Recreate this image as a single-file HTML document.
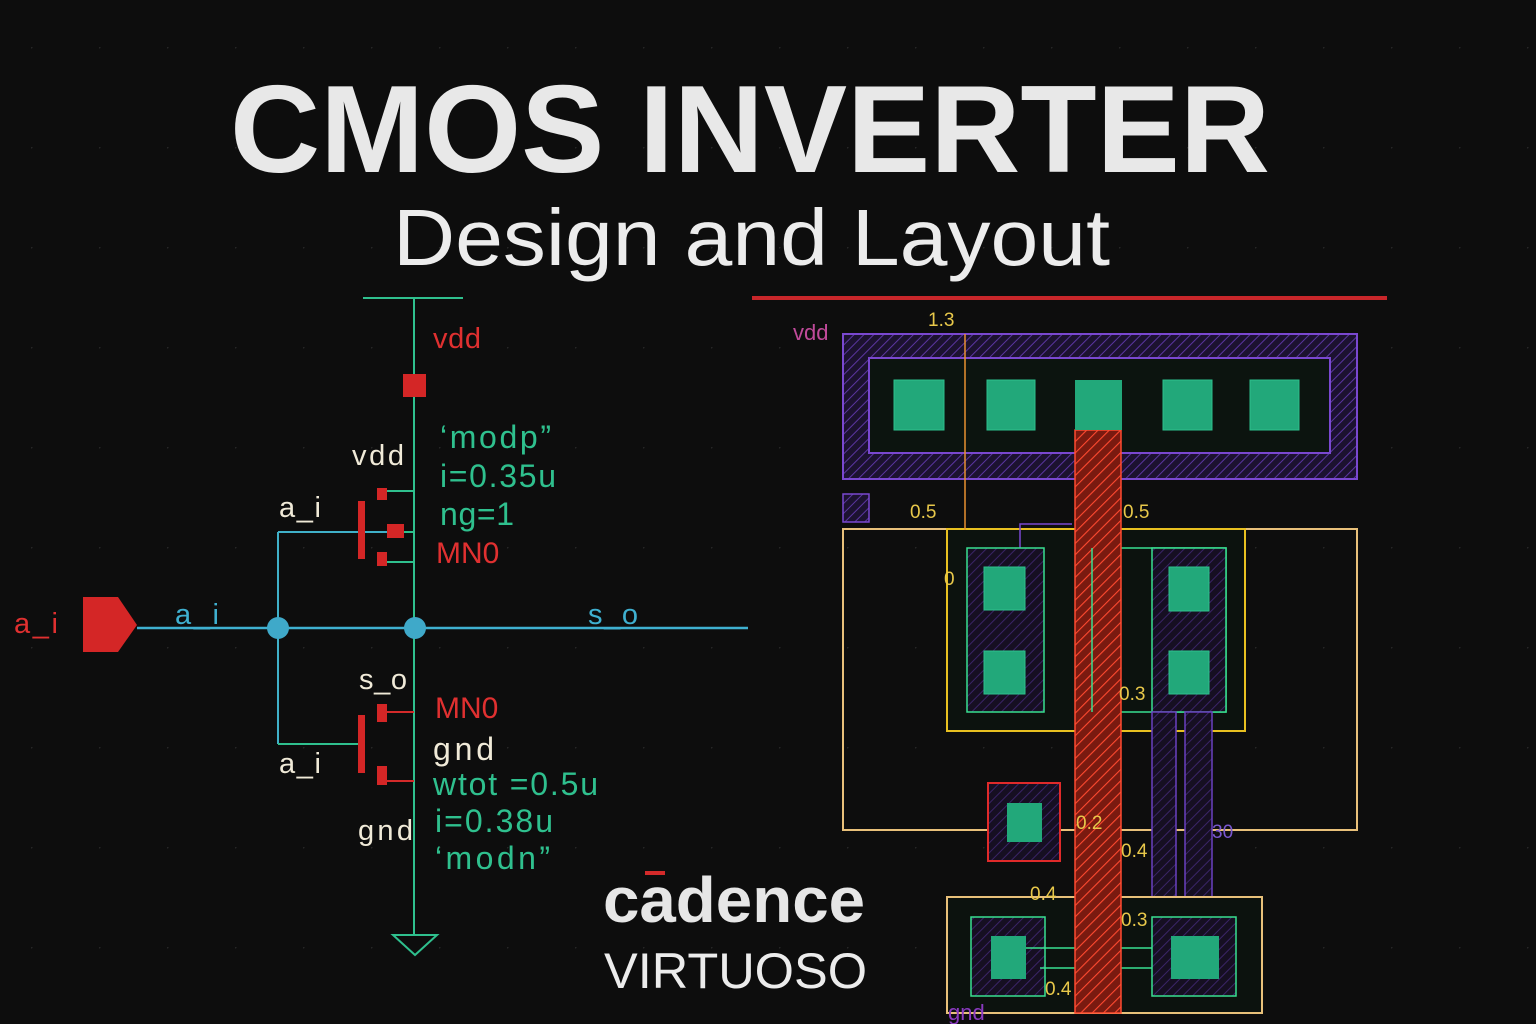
<!DOCTYPE html>
<html><head><meta charset="utf-8"><style>
html,body{margin:0;padding:0;background:#0d0d0d;}
svg{display:block;}
text{font-family:"Liberation Sans",sans-serif;}
</style></head><body>
<svg width="1536" height="1024" viewBox="0 0 1536 1024" xmlns="http://www.w3.org/2000/svg">
<defs>
<pattern id="dots" x="31" y="47" width="68" height="100" patternUnits="userSpaceOnUse"><circle cx="0" cy="0" r="1.6" fill="#262626"/></pattern>
<pattern id="hp" width="7" height="7" patternUnits="userSpaceOnUse" patternTransform="rotate(45)"><rect width="7" height="7" fill="#1c1230"/><line x1="0" y1="0" x2="0" y2="7" stroke="#5a35a0" stroke-width="2"/></pattern>
<pattern id="hr" width="8" height="8" patternUnits="userSpaceOnUse" patternTransform="rotate(45)"><rect width="8" height="8" fill="#7a1a10"/><line x1="0" y1="0" x2="0" y2="8" stroke="#ff4a30" stroke-width="2.2"/></pattern>
<pattern id="hpd" width="7" height="7" patternUnits="userSpaceOnUse" patternTransform="rotate(45)"><rect width="7" height="7" fill="#160f22"/><line x1="0" y1="0" x2="0" y2="7" stroke="#3a2466" stroke-width="2"/></pattern>
</defs>
<rect width="1536" height="1024" fill="#0d0d0d"/>
<rect width="1536" height="1024" fill="url(#dots)"/>

<text x="230" y="172" font-size="124" font-weight="bold" fill="#e8e8e8" textLength="1040" lengthAdjust="spacingAndGlyphs">CMOS INVERTER</text>
<text x="393" y="265" font-size="80" fill="#ececec" textLength="717" lengthAdjust="spacingAndGlyphs">Design and Layout</text>
<rect x="752" y="296" width="635" height="4" fill="#c8262a"/>

<g stroke="#2fc08e" stroke-width="2" fill="none">
<line x1="363" y1="298" x2="463" y2="298"/>
<line x1="414" y1="298" x2="414" y2="935"/>
<polygon points="393,935 437,935 415,955"/>
<line x1="387" y1="491" x2="414" y2="491"/>
<line x1="404" y1="532" x2="414" y2="532"/>
<line x1="387" y1="562" x2="414" y2="562"/>
<line x1="278" y1="532" x2="404" y2="532" stroke="#3fb0c8"/>
<line x1="278" y1="532" x2="278" y2="744" stroke="#3fb0c8"/>
<line x1="278" y1="744" x2="358" y2="744"/>
</g>
<line x1="137" y1="628" x2="748" y2="628" stroke="#3fb0d0" stroke-width="2.5"/>
<line x1="387" y1="712" x2="414" y2="712" stroke="#d42a2a" stroke-width="2"/>
<line x1="387" y1="781" x2="414" y2="781" stroke="#d42a2a" stroke-width="2"/>
<g fill="#d42626">
<rect x="403" y="374" width="23" height="23"/>
<rect x="358" y="501" width="7" height="58"/>
<rect x="377" y="488" width="10" height="12"/>
<rect x="387" y="524" width="17" height="14"/>
<rect x="377" y="552" width="10" height="14"/>
<rect x="358" y="715" width="7" height="58"/>
<rect x="377" y="704" width="10" height="18"/>
<rect x="377" y="766" width="10" height="19"/>
<polygon points="83,597 118,597 137,625 118,652 83,652"/>
</g>
<circle cx="278" cy="628" r="11" fill="#3fa9c9"/>
<circle cx="415" cy="628" r="11" fill="#3fa9c9"/>

<g font-size="29" lengthAdjust="spacingAndGlyphs">
<text x="433" y="348" fill="#e03030" textLength="48">vdd</text>
<text x="352" y="465" fill="#f0ead8" textLength="52">vdd</text>
<text x="279" y="517" fill="#f0ead8" textLength="42">a_i</text>
<text x="440" y="448" fill="#2fc08e" font-size="32" textLength="111">‘modp”</text>
<text x="440" y="487" fill="#2fc08e" font-size="32" textLength="116">i=0.35u</text>
<text x="440" y="525" fill="#2fc08e" font-size="32" textLength="74">ng=1</text>
<text x="436" y="563" fill="#e03030" font-size="30">MN0</text>
<text x="14" y="633" fill="#e03030" textLength="44">a_i</text>
<text x="175" y="624" fill="#3fb0d0" textLength="44">a_i</text>
<text x="588" y="624" fill="#3fb0d0" textLength="50">s_o</text>
<text x="359" y="689" fill="#f0ead8" textLength="48">s_o</text>
<text x="435" y="718" fill="#e03030" font-size="30">MN0</text>
<text x="433" y="760" fill="#f0ead8" font-size="32" textLength="61">gnd</text>
<text x="433" y="795" fill="#2fc08e" font-size="32" textLength="165">wtot =0.5u</text>
<text x="435" y="832" fill="#2fc08e" font-size="32" textLength="118">i=0.38u</text>
<text x="435" y="869" fill="#2fc08e" font-size="32" textLength="115">‘modn”</text>
<text x="358" y="840" fill="#f0ead8" textLength="55">gnd</text>
<text x="279" y="773" fill="#f0ead8" textLength="42">a_i</text>
</g>

<rect x="645" y="871" width="20" height="4" fill="#d42a2a"/>
<text x="603" y="922" font-size="64" font-weight="bold" fill="#e6e6e6" textLength="262" lengthAdjust="spacingAndGlyphs">cadence</text>
<text x="604" y="988" font-size="50" fill="#ececec" textLength="263" lengthAdjust="spacingAndGlyphs">VIRTUOSO</text>

<text x="793" y="340" font-size="22" fill="#c04a9a">vdd</text>
<text x="928" y="326" font-size="19" fill="#e8c84a">1.3</text>
<rect x="843" y="334" width="514" height="145" fill="url(#hp)" stroke="#7a48d0" stroke-width="2"/>
<rect x="869" y="358" width="461" height="95" fill="#0c140f" stroke="#7a48d0" stroke-width="2"/>
<g fill="#22a87a" stroke="#2dc08c" stroke-width="1">
<rect x="894" y="380" width="50" height="50"/>
<rect x="987" y="380" width="48" height="50"/>
<rect x="1163" y="380" width="49" height="50"/>
<rect x="1250" y="380" width="49" height="50"/>
</g>
<rect x="843" y="494" width="26" height="28" fill="url(#hp)" stroke="#7a48d0" stroke-width="1.5"/>
<rect x="843" y="529" width="514" height="301" fill="none" stroke="#e8c07a" stroke-width="2"/>
<rect x="947" y="529" width="298" height="202" fill="#0c120e" stroke="#e8c020" stroke-width="2"/>
<line x1="965" y1="334" x2="965" y2="530" stroke="#e89030" stroke-width="1.5"/>
<polyline points="1020,560 1020,524 1072,524" fill="none" stroke="#7a48d0" stroke-width="1.5"/>
<rect x="967" y="548" width="77" height="164" fill="url(#hpd)" stroke="#38e090" stroke-width="1.5"/>
<rect x="1092" y="548" width="134" height="164" fill="#0c120e" stroke="#38e090" stroke-width="1.5"/>
<rect x="1152" y="548" width="74" height="164" fill="url(#hpd)" stroke="#38e090" stroke-width="1.5"/>
<g fill="#22a87a" stroke="#2dc08c" stroke-width="1">
<rect x="984" y="567" width="41" height="43"/>
<rect x="984" y="651" width="41" height="43"/>
<rect x="1169" y="567" width="40" height="44"/>
<rect x="1169" y="651" width="40" height="43"/>
</g>
<rect x="1152" y="712" width="24" height="208" fill="url(#hpd)" stroke="#6a40c0" stroke-width="1.5"/>
<rect x="1185" y="712" width="27" height="208" fill="url(#hpd)" stroke="#6a40c0" stroke-width="1.5"/>
<rect x="988" y="783" width="72" height="78" fill="url(#hpd)" stroke="#e02a2a" stroke-width="2"/>
<rect x="1007" y="803" width="35" height="39" fill="#22a87a"/>
<rect x="947" y="897" width="315" height="116" fill="#0c120e" stroke="#e8c07a" stroke-width="2"/>
<rect x="971" y="917" width="74" height="79" fill="url(#hpd)" stroke="#38e090" stroke-width="1.5"/>
<rect x="1152" y="917" width="84" height="79" fill="url(#hpd)" stroke="#38e090" stroke-width="1.5"/>
<rect x="991" y="936" width="35" height="43" fill="#22a87a"/>
<rect x="1171" y="936" width="48" height="43" fill="#22a87a"/>
<line x1="1026" y1="948" x2="1152" y2="948" stroke="#38e090" stroke-width="1.5"/>
<line x1="1040" y1="968" x2="1152" y2="968" stroke="#38e090" stroke-width="1.5"/>
<rect x="1075" y="430" width="46" height="583" fill="url(#hr)" stroke="#ff4a30" stroke-width="1.5"/>
<rect x="1075" y="380" width="47" height="50" fill="#22a87a"/>
<line x1="1092" y1="548" x2="1092" y2="712" stroke="#38e090" stroke-width="1.5"/>
<g font-size="19" fill="#e8c84a">
<text x="910" y="518">0.5</text>
<text x="1123" y="518">0.5</text>
<text x="944" y="585">0</text>
<text x="1119" y="700">0.3</text>
<text x="1076" y="829">0.2</text>
<text x="1212" y="838" fill="#7a58d0">30</text>
<text x="1121" y="857">0.4</text>
<text x="1030" y="900">0.4</text>
<text x="1121" y="926">0.3</text>
<text x="1045" y="995">0.4</text>
</g>
<text x="948" y="1020" font-size="22" fill="#8a3ac0">gnd</text>
</svg>
</body></html>
